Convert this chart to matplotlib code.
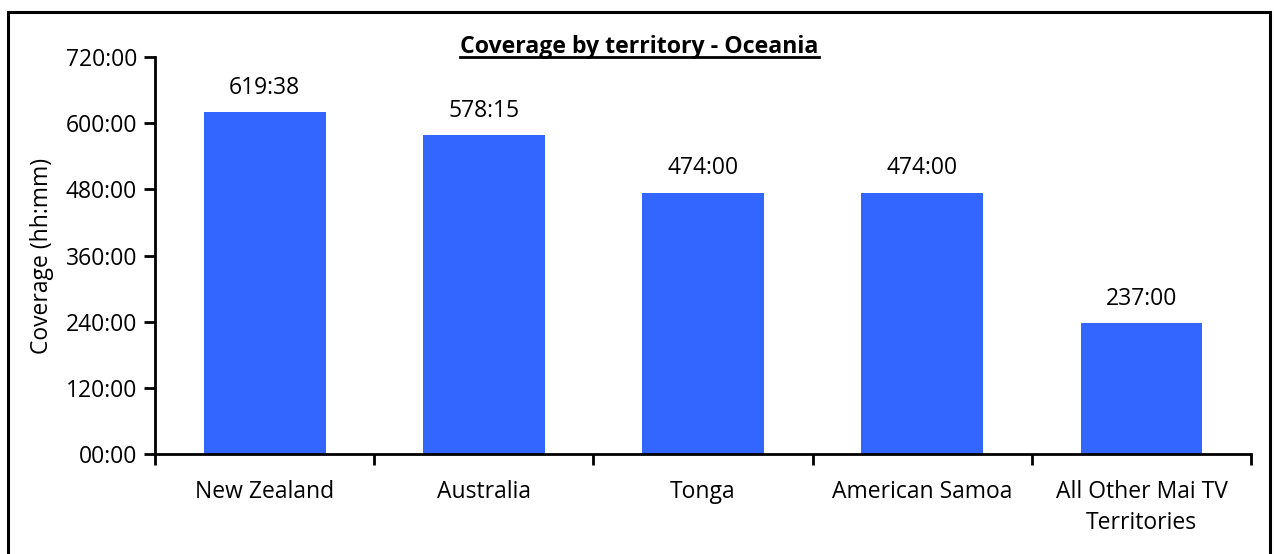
import matplotlib
matplotlib.use("Agg")
import matplotlib.pyplot as plt
from matplotlib.patches import Rectangle

# Data
territories = ["New Zealand", "Australia", "Tonga", "American Samoa", "All Other Mai TV\nTerritories"]
coverage_labels = ["619:38", "578:15", "474:00", "474:00", "237:00"]
y_ticks_hours = [0, 120, 240, 360, 480, 600, 720]
y_tick_labels = ["00:00", "120:00", "240:00", "360:00", "480:00", "600:00", "720:00"]


def hhmm_to_hours(txt):
    hh, mm = txt.split(":")
    return int(hh) + int(mm) / 60.0


coverage_hours = [hhmm_to_hours(x) for x in coverage_labels]

plt.rcParams["font.family"] = ["Open Sans", "DejaVu Sans"]
fs = 16.5

fig = plt.figure(figsize=(12.74, 5.54), dpi=100)
ax = fig.add_axes([0.1217, 0.1805, 0.8603, 0.7165])

x_pos = list(range(len(territories)))
bars = ax.bar(x_pos, coverage_hours, width=0.556, color="#3366FF", zorder=2)

for bar, lbl in zip(bars, coverage_labels):
    ax.annotate(lbl, (bar.get_x() + bar.get_width() / 2, bar.get_height()),
                xytext=(0, 9), textcoords="offset points",
                ha="center", va="bottom", fontsize=fs)

ax.set_xlim(-0.5, len(territories) - 0.5)
ax.set_ylim(0, 720)
ax.set_yticks(y_ticks_hours)
ax.set_yticklabels(y_tick_labels, fontsize=fs)

# Category labels centred, tick marks between categories
ax.set_xticks(x_pos)
ax.set_xticklabels(territories, fontsize=fs, linespacing=1.38)
ax.tick_params(axis="x", length=0, pad=19)
ax.set_xticks([i - 0.5 for i in range(len(territories) + 1)], minor=True)
ax.tick_params(axis="x", which="minor", length=8, width=2, direction="out")
ax.tick_params(axis="y", length=8, width=2, direction="out", pad=5)

for side in ["top", "right"]:
    ax.spines[side].set_visible(False)
for side in ["left", "bottom"]:
    ax.spines[side].set_linewidth(2)

ax.set_ylabel("Coverage (hh:mm)", fontsize=fs)
ax.yaxis.set_label_coords(-0.0922, 0.5)

title = fig.text(0.502, 0.916, "Coverage by territory - Oceania", ha="center", va="center",
                 fontsize=16.7, fontweight="bold")

# underline the title using its rendered extent
fig.canvas.draw()
bb = title.get_window_extent().transformed(fig.transFigure.inverted())
fig.add_artist(plt.Line2D([bb.x0, bb.x1], [bb.y0 + 0.003, bb.y0 + 0.003], color="black", lw=2,
                          transform=fig.transFigure))

# outer frame
fig.add_artist(Rectangle((0.0063, -0.01), 0.9906, 0.9892, fill=False, lw=2.2,
                         edgecolor="black", transform=fig.transFigure))

fig.savefig("out.png", dpi=100)
